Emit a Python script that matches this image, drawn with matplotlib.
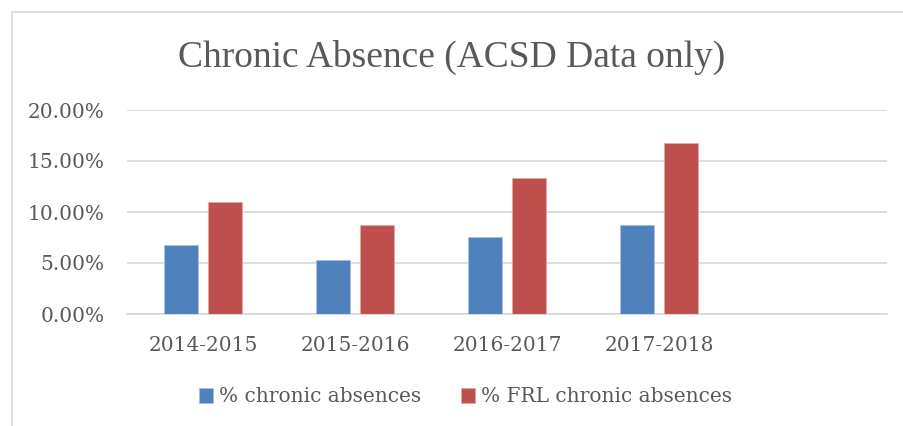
import numpy as np
import matplotlib.pyplot as plt
from matplotlib.patches import Rectangle

years = ["2014-2015", "2015-2016", "2016-2017", "2017-2018", ""]
chronic = [6.76, 5.26, 7.58, 8.75]
frl_chronic = [10.95, 8.73, 13.36, 16.8]
series_names = ["% chronic absences", "% FRL chronic absences"]

blue = "#4F81BD"
red = "#C0504D"
txt = "#595959"
grid_c = "#D9D9D9"

plt.rcParams['font.family'] = ['DejaVu Serif']

fig = plt.figure(figsize=(9.04, 4.26), dpi=100)
# chart frame (clipped at right/bottom like the reference)
fig.patches.append(Rectangle((12 / 904, -0.1), 1.2, 1 - 12 / 426 + 0.1,
                             transform=fig.transFigure, fill=False,
                             edgecolor="#D9D9D9", linewidth=1.2))

ax = fig.add_axes([127 / 904, 1 - 314 / 426, 760 / 904, 204 / 426])

x = np.arange(len(chronic))
w = 0.224
off = 0.145
b1 = ax.bar(x - off, np.array(chronic) / 100, w, color=blue,
            edgecolor="#A7C0DE", linewidth=0.6, label=series_names[0], zorder=3)
b2 = ax.bar(x + off, np.array(frl_chronic) / 100, w, color=red,
            edgecolor="#DFA8A6", linewidth=0.6, label=series_names[1], zorder=3)

ax.set_xlim(-0.5, len(years) - 0.5)
ax.set_ylim(0, 0.20)
ax.set_yticks([0, 0.05, 0.10, 0.15, 0.20])
ax.set_yticklabels(["0.00%", "5.00%", "10.00%", "15.00%", "20.00%"])
ax.set_xticks(np.arange(len(years)))
ax.set_xticklabels(years)
ax.tick_params(length=0, labelsize=14.5, colors=txt)
ax.tick_params(axis="y", pad=16)
ax.tick_params(axis="x", pad=16)
ax.yaxis.grid(True, color=grid_c, linewidth=1.3, zorder=0)
ax.set_axisbelow(True)
for s in ["top", "right", "left"]:
    ax.spines[s].set_visible(False)
ax.spines["bottom"].set_color(grid_c)
ax.spines["bottom"].set_linewidth(1.3)

fig.text(0.5, 1 - 57 / 426, "Chronic Absence (ACSD Data only)",
         ha="center", va="center", fontsize=27, color=txt,
         family=['Liberation Serif', 'DejaVu Serif'])

leg = fig.legend(handles=[b1, b2], loc="center", bbox_to_anchor=(0.515, 1 - 397 / 426),
                 ncol=2, frameon=False, fontsize=14.5, handlelength=0.7,
                 handleheight=0.7, handletextpad=0.3, columnspacing=2.0)
for t in leg.get_texts():
    t.set_color(txt)

fig.savefig("out.png", dpi=100)
